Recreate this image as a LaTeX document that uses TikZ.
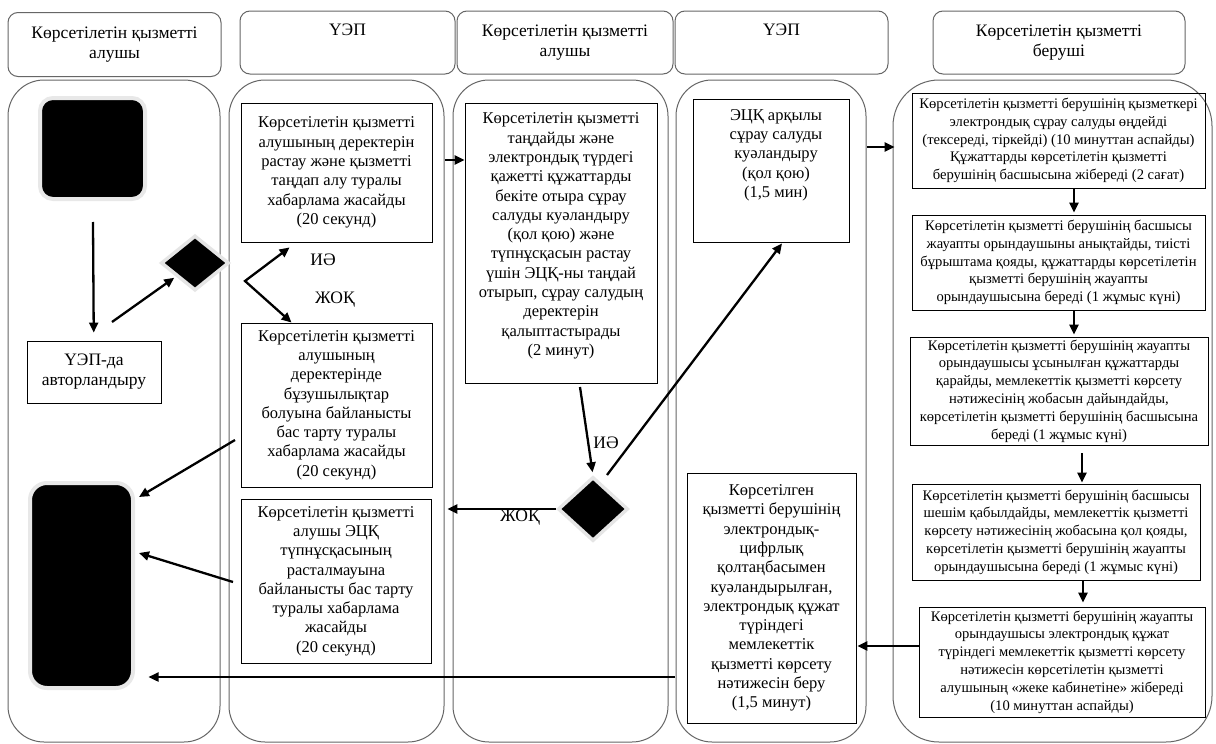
\documentclass[tikz,border=0pt]{standalone}
\usepackage{fontspec}
\setmainfont{Liberation Serif}
\usetikzlibrary{shapes.geometric,arrows.meta,calc}
\newcommand\mainsz{\fontsize{16.5}{19.3}\selectfont}
\newcommand\smsz{\fontsize{14.6}{17.8}\selectfont}
\newcommand\hdsz{\fontsize{17.5}{20}\selectfont}
\newcommand\lbsz{\fontsize{17.5}{20}\selectfont}
\tikzset{
  lane/.style={draw=black!60, line width=1pt, rounded corners=36pt},
  hdr/.style={draw=black!60, line width=1pt, rounded corners=10pt, align=center, font=\hdsz, inner sep=0pt},
  box/.style={draw=black, line width=0.9pt, align=center, font=\mainsz, inner sep=0pt},
  sbox/.style={box, font=\smsz},
  txt/.style={align=center, font=\mainsz, inner sep=0pt},
  arr/.style={-{Triangle[length=10pt,width=9pt]}, line width=2.3pt},
  arrv/.style={{Triangle[length=10pt,width=9pt]}-{Triangle[length=10pt,width=9pt]}, line width=2.3pt, line join=miter},
  lbl/.style={font=\lbsz, inner sep=0pt},
  blk/.style={fill=black, draw=black!9, line width=4pt},
  dia/.style={diamond, fill=black, draw=black!10, line width=3.5pt, inner sep=0pt}
}
\begin{document}
\begin{tikzpicture}[x=1pt,y=-1pt]
\useasboundingbox (0,0) rectangle (1216,744);
\fill[white] (0,0) rectangle (1216,744);
% headers
\node[hdr, minimum width=213pt, minimum height=64pt] (h1) at (114.5,44.5) {Көрсетілетін қызметті\\алушы};
\node[hdr, minimum width=215pt, minimum height=63pt] (h2) at (347.5,42.5) {ҮЭП\\\strut};
\node[hdr, minimum width=216pt, minimum height=63pt] (h3) at (565,42.5) {Көрсетілетін қызметті\\алушы};
\node[hdr, minimum width=213pt, minimum height=63pt] (h4) at (781.5,42.5) {ҮЭП\\\strut};
\node[hdr, minimum width=252pt, minimum height=63pt] (h5) at (1059,42.5) {Көрсетілетін қызметті\\беруші};
% lanes
\draw[lane] (8,80) rectangle (220,742);
\draw[lane] (229,80) rectangle (444,742);
\draw[lane] (453,80) rectangle (668,742);
\draw[lane] (676,80) rectangle (866,742);
\draw[lane, rounded corners=46pt] (893,80) rectangle (1212,742);
% lane 1
\node[blk, rounded corners=13pt, minimum width=105pt, minimum height=101pt] (start) at (92.5,148.5) {};
\node[box, font=\hdsz, minimum width=134pt, minimum height=62pt] (auth) at (94,372) {ҮЭП-да\\авторландыру};
\node[blk, rounded corners=17pt, minimum width=103pt, minimum height=205pt] (end) at (81.5,585.5) {};
\node[dia, minimum width=68pt, minimum height=55pt] (d1) at (195,263) {};
% lane 2
\node[box, minimum width=191pt, minimum height=139pt] (A) at (336.5,172.5) {Көрсетілетін қызметті\\алушының деректерін\\растау және қызметті\\таңдап алу  туралы\\хабарлама жасайды\\(20 секунд)};
\node[box, minimum width=191pt, minimum height=164pt] (B) at (336.5,405) {Көрсетілетін қызметті\\алушының\\деректерінде\\бұзушылықтар\\болуына байланысты\\бас тарту туралы\\хабарлама жасайды\\(20 секунд)};
\node[box, minimum width=190pt, minimum height=164pt] (C) at (336,581) {Көрсетілетін  қызметті\\алушы ЭЦҚ\\түпнұсқасының\\расталмауына\\байланысты бас тарту\\туралы хабарлама\\жасайды\\(20 секунд)};
% lane 3
\node[box, minimum width=192pt, minimum height=280pt] (E) at (561,243) {};
\node[txt] (Et) at (561,236) {Көрсетілетін қызметті\\таңдайды және\\электрондық түрдегі\\қажетті құжаттарды\\бекіте отыра сұрау\\салуды куәландыру\\(қол қою) және\\түпнұсқасын растау\\үшін ЭЦҚ-ны таңдай\\отырып, сұрау салудың\\деректерін\\қалыптастырады\\(2 минут)};
\node[dia, minimum width=70pt, minimum height=64pt] (d2) at (593,509) {};
% lane 4
\node[box, minimum width=156pt, minimum height=143pt] (F) at (771,170.5) {};
\node[txt] (Ft) at (776,155) {ЭЦҚ арқылы\\сұрау салуды\\куәландыру\\(қол қою)\\(1,5 мин)};
\node[box, minimum width=169pt, minimum height=250pt] (D) at (771.5,598) {Көрсетілген\\қызметті берушінің\\электрондық-\\цифрлық\\қолтаңбасымен\\куәландырылған,\\электрондық құжат\\түріндегі\\мемлекеттік\\қызметті көрсету\\нәтижесін беру\\(1,5 минут)};
% lane 5
\node[sbox, minimum width=293pt, minimum height=95pt] (G) at (1058.5,140.5) {Көрсетілетін қызметті берушінің қызметкері\\электрондық сұрау салуды өңдейді\\(тексереді, тіркейді) (10 минуттан аспайды)\\Құжаттарды көрсетілетін қызметті\\берушінің басшысына жібереді (2 сағат)};
\node[sbox, minimum width=293pt, minimum height=95pt] (H) at (1058.5,262.5) {Көрсетілетін қызметті берушінің  басшысы\\жауапты орындаушыны анықтайды, тиісті\\бұрыштама қояды, құжаттарды көрсетілетін\\қызметті берушінің жауапты\\орындаушысына береді (1 жұмыс күні)};
\node[sbox, minimum width=298pt, minimum height=108pt] (I) at (1059,391) {Көрсетілетін қызметті берушінің жауапты\\орындаушысы ұсынылған құжаттарды\\қарайды, мемлекеттік қызметті көрсету\\нәтижесінің жобасын дайындайды,\\көрсетілетін қызметті берушінің басшысына\\береді (1 жұмыс күні)};
\node[sbox, minimum width=288pt, minimum height=96pt] (J) at (1056,532) {Көрсетілетін қызметті берушінің  басшысы\\шешім қабылдайды, мемлекеттік қызметті\\көрсету нәтижесінің жобасына қол қояды,\\көрсетілетін қызметті берушінің жауапты\\орындаушысына береді (1 жұмыс күні)};
\node[sbox, minimum width=286pt, minimum height=110pt] (K) at (1062,662) {Көрсетілетін қызметті берушінің жауапты\\орындаушысы электрондық құжат\\түріндегі мемлекеттік қызметті көрсету\\нәтижесін көрсетілетін қызметті\\алушының «жеке кабинетіне» жібереді\\(10 минуттан аспайды)};
% labels
\node[lbl] (yes1) at (323,260) {ИӘ};
\node[lbl] (no1) at (335,300) {ЖОҚ};
\node[lbl] (yes2) at (606,443) {ИӘ};
\node[lbl] (no2) at (520,518) {ЖОҚ};
% connector coordinates
\coordinate (a1) at (112,322);
\coordinate (v1) at (245,281);
\coordinate (ae) at (445,160);
\coordinate (b1) at (235,440);
\coordinate (c1) at (233,582);
\coordinate (dd) at (675,677);
\coordinate (e1) at (580,387);
\coordinate (d2o) at (607,475);
\coordinate (fg) at (867,147);
\coordinate (kd) at ($(K.west)+(0,-16)$);
% connectors
\draw[arr, shorten <=21pt, shorten >=8pt] (start) -- (auth);
\draw[arr, shorten >=2pt] (a1) -- (d1);
\draw[arrv] ($(A.south west)+(49,5)$) -- (v1) -- ($(B.north west)+(51,0)$);
\draw[arr] (ae) -- (ae -| E.west);
\draw[arr] (b1) -- ($(end.north east)+(4,16)$);
\draw[arr] (c1) -- ($(end.east)+(4,-32.5)$);
\draw[arr, shorten >=13.5pt] (dd) -- (dd -| end.east);
\draw[arr, shorten >=3pt] (e1) -- (d2.north);
\draw[arr] (d2o) -- ($(F.south)+(11,1)$);
\draw[arr, shorten >=16pt] (d2.west) -- (d2.west -| C.east);
\draw[arr, shorten >=17pt] (fg) -- (fg -| G.west);
\draw[arr] ($(G.south)+(15.5,0)$) -- ($(H.north)+(15.5,-2)$);
\draw[arr] ($(H.south)+(15.5,0)$) -- ($(I.north)+(15,-2)$);
\draw[arr] ($(I.south)+(23,8)$) -- ($(J.north)+(26,-1)$);
\draw[arr] ($(J.south)+(27,0)$) -- ($(K.north)+(21,-4)$);
\draw[arr, shorten >=1pt] (kd) -- (kd -| D.east);
\end{tikzpicture}
\end{document}
